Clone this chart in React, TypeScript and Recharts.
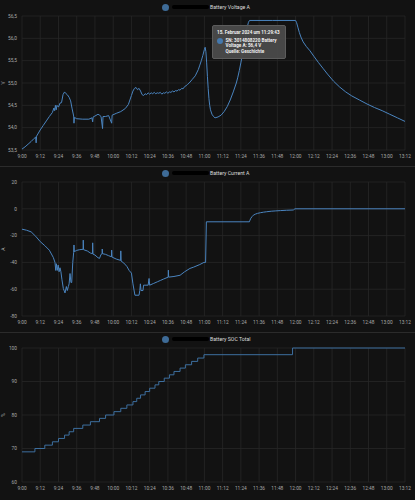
import { LineChart, Line, XAxis, YAxis, CartesianGrid, Tooltip } from "recharts";

// x axis: minutes after 9:00
const timeLabels = [
  "9:00", "9:12", "9:24", "9:36", "9:48", "10:00", "10:12", "10:24", "10:36", "10:48", "11:00",
  "11:12", "11:24", "11:36", "11:48", "12:00", "12:12", "12:24", "12:36", "12:48", "13:00", "13:12",
];

const voltageMinutes = [
  0, 2, 4, 6, 8, 9, 9.3, 9.6, 12, 14, 16, 18, 20, 21, 21.5, 22, 22.5, 23, 24, 25, 26, 27, 28, 29, 30,
  31, 32, 33, 34, 34.2, 34.5, 36, 40, 44, 46, 46.5, 46.8, 48, 50, 51, 52, 53, 53.3, 55, 57, 59, 59.3,
  62, 65, 68, 70, 71, 72, 73, 74, 75, 76, 77, 78, 79, 80, 81, 82, 83, 84, 85, 86, 87, 88, 89, 90, 91,
  92, 93, 94, 95, 96, 97, 98, 99, 100, 101, 102, 103, 104, 105, 106, 107, 108, 109, 110, 112, 114,
  116, 117, 118, 119, 120, 120.5, 121, 121.5, 122, 122.5, 123, 123.5, 124, 125, 126, 127, 129, 131,
  133, 135, 137, 139, 141, 142, 143, 144, 145, 146, 147, 148, 149, 149.7, 165, 180, 180.7, 181.5,
  182.5, 183.5, 185, 187, 189.5, 192, 195, 198, 201, 205, 209, 213, 217, 222, 227, 232, 237, 242,
  247, 252,
];
const voltageValues = [
  53.52, 53.57, 53.63, 53.69, 53.76, 53.79, 53.66, 53.81, 53.95, 54.05, 54.15, 54.25, 54.34, 54.44,
  54.38, 54.5, 54.4, 54.5, 54.46, 54.55, 54.56, 54.74, 54.8, 54.76, 54.73, 54.68, 54.6, 54.42, 54.26,
  54.1, 54.23, 54.2, 54.19, 54.19, 54.22, 54.13, 54.24, 54.26, 54.3, 54.28, 54.25, 53.98, 54.25,
  54.25, 54.27, 54.1, 54.28, 54.32, 54.36, 54.43, 54.52, 54.62, 54.72, 54.82, 54.88, 54.9, 54.85,
  54.88, 54.82, 54.74, 54.72, 54.76, 54.74, 54.78, 54.75, 54.78, 54.76, 54.79, 54.76, 54.78, 54.77,
  54.79, 54.75, 54.78, 54.77, 54.8, 54.77, 54.8, 54.79, 54.82, 54.8, 54.83, 54.82, 54.85, 54.84,
  54.88, 54.87, 54.92, 54.94, 54.97, 55.0, 55.08, 55.16, 55.3, 55.4, 55.5, 55.62, 55.75, 55.8, 55.7,
  55.45, 55.15, 54.88, 54.65, 54.5, 54.4, 54.3, 54.25, 54.22, 54.24, 54.28, 54.36, 54.47, 54.62,
  54.8, 55.0, 55.13, 55.28, 55.45, 55.63, 55.82, 56.02, 56.22, 56.36, 56.4, 56.4, 56.4, 56.35, 56.25,
  56.13, 56.03, 55.92, 55.82, 55.72, 55.6, 55.46, 55.33, 55.2, 55.04, 54.91, 54.8, 54.71, 54.62,
  54.53, 54.45, 54.38, 54.3, 54.22, 54.14,
];

const currentMinutes = [
  0, 3, 6, 9, 12, 15, 18, 20.6, 21.7, 22.2, 22.6, 23.2, 23.8, 24.4, 25, 25.6, 26.3, 27.2, 28.3, 29.2,
  29.8, 30.5, 31, 31.6, 32.2, 32.7, 33.4, 34, 34.2, 34.4, 36, 38, 40.2, 40.3, 40.5, 43, 45, 46.4, 46.5,
  46.7, 48, 50, 51, 52, 52.7, 52.8, 53, 55, 57, 58.9, 59, 59.2, 62, 64.9, 65, 65.2, 67, 69, 70.5, 72,
  73, 74.3, 77, 77.5, 77.9, 78.3, 79.6, 80, 83, 83.6, 84, 86.4, 89, 91, 93, 96.2, 96.3, 96.5, 100, 104,
  107, 110.5, 113, 117, 119.7, 120.8, 121.3, 149.6, 150, 150.6, 151.4, 152.2, 153.5, 155, 157, 159,
  161, 164, 167, 170, 174, 178.5, 179.6, 252,
];
const currentValues = [
  -15.2, -16, -17.2, -20.5, -24.5, -27.5, -30.9, -36.3, -40, -46, -41, -46, -42, -47, -44, -47, -53,
  -59.5, -62.8, -58, -61, -58, -56, -48.3, -55, -55, -40, -32.5, -27, -32, -31, -30.5, -30.2, -23.4,
  -30.5, -31.5, -33, -33.5, -25.4, -33.8, -34.5, -36.5, -37, -34, -33.5, -30, -33.5, -34, -35, -35.8,
  -30.8, -36, -37.5, -38.5, -31.4, -39, -40.5, -43, -46, -48, -56, -64.5, -64.5, -61, -56, -61, -61,
  -57, -57, -52, -57, -55.8, -54.5, -53.5, -52.5, -51, -45.8, -51, -50.5, -49.6, -47, -44.5, -43.5,
  -41.6, -40, -40, -9.7, -9.7, -8.5, -7, -5.8, -4.8, -4, -3.4, -2.9, -2.5, -2.2, -1.8, -1.55, -1.35,
  -1.1, -0.9, 0, 0,
];

const socMinutes = [
  0, 8.5, 15, 20, 24, 28, 31, 34, 40, 45, 51, 55, 60.5, 65, 69, 73, 75.5, 78, 81, 84, 87.5, 90, 93.6,
  97, 100, 104, 107.5, 111.6, 115.6, 119.7, 178, 252,
];
const socValues = [
  69, 70, 71, 72, 73, 74, 75, 76, 77, 78, 79, 80, 81, 82, 83, 84, 85, 86, 87, 88, 89, 90, 91, 92, 93,
  94, 95, 96, 97, 98, 100, 100,
];

const voltageTicks = [53.5, 54, 54.5, 55, 55.5, 56, 56.5];
const currentTicks = [-80, -60, -40, -20, 0, 20];
const socTicks = [60, 70, 80, 90, 100];

const tooltipTime = 149.7;
const tooltipTitle = "15. Februar 2024 um 11:29:43";
const tooltipLines = ["SN: 3014808220 Battery", "Voltage A: 56,4 V", "Quelle: Geschichte"];

const toMinutes = (s: string) => {
  const [h, m] = s.split(":").map(Number);
  return (h - 9) * 60 + m;
};
const timeTicks = timeLabels.map(toMinutes);
const fmtTime = (v: number) => timeLabels[timeTicks.indexOf(v)] ?? "";

const FONT = "Roboto, sans-serif";
const LINE = "#4a84bf";
const GRID = "#272727";
const TEXT = "#a8a8a8";

function LegendRow({ title }: { title: string }) {
  return (
    <div
      style={{
        position: "absolute",
        top: 3.5,
        left: 161.5,
        display: "flex",
        alignItems: "center",
        height: 7,
        fontFamily: FONT,
        fontSize: 5.2,
        color: "#dcdcdc",
        zIndex: 2,
      }}
    >
      <span style={{ width: 7, height: 7, borderRadius: "50%", background: "#3e6b97", marginRight: 3 }} />
      <span style={{ width: 37, height: 4, background: "#000", borderRadius: 2, marginRight: 1.5 }} />
      <span>{title}</span>
    </div>
  );
}

function HoverBox() {
  return (
    <div
      style={{
        width: 74,
        height: 34,
        boxSizing: "border-box",
        background: "rgba(74,74,74,0.96)",
        border: "1px solid #5c5c5c",
        borderRadius: 2,
        fontFamily: FONT,
        color: "#f0f0f0",
        fontSize: 4.6,
        padding: "4px 4px",
        lineHeight: "5.4px",
      }}
    >
      <div style={{ fontWeight: 700, marginBottom: 2.5 }}>{tooltipTitle}</div>
      <div style={{ display: "flex" }}>
        <span
          style={{
            width: 6,
            height: 6,
            borderRadius: "50%",
            background: "#4478ad",
            marginRight: 2.5,
            flexShrink: 0,
          }}
        />
        <div style={{ fontWeight: 700 }}>
          {tooltipLines.map((l) => (
            <div key={l}>{l}</div>
          ))}
        </div>
      </div>
    </div>
  );
}

type PanelProps = {
  minutes: number[];
  values: number[];
  title: string;
  unit: string;
  ticks: number[];
  fmt: (v: number) => string;
  step?: boolean;
  color?: string;
  showTip?: boolean;
  divider?: boolean;
};

function Panel({ minutes, values, title, unit, ticks, fmt, step, color, showTip, divider }: PanelProps) {
  const data = minutes.map((t, i) => ({ t, v: values[i] }));
  const tipIndex = minutes.indexOf(tooltipTime);
  return (
    <div style={{ position: "relative", width: 415, height: 166 }}>
      {divider && (
        <div style={{ position: "absolute", top: 0, left: 0, width: 415, height: 1, background: "#2b2b2b" }} />
      )}
      <LegendRow title={title} />
      <LineChart width={415} height={166} data={data} margin={{ top: 16, right: 10, bottom: 0, left: 0 }}>
        <CartesianGrid stroke={GRID} strokeWidth={0.8} />
        <XAxis
          dataKey="t"
          type="number"
          domain={[0, 252]}
          ticks={timeTicks}
          tickFormatter={fmtTime}
          axisLine={false}
          tickLine={false}
          tickSize={3}
          height={16}
          interval={0}
          tick={{ fill: TEXT, fontSize: 4.8, fontFamily: FONT }}
        />
        <YAxis
          type="number"
          domain={[ticks[0], ticks[ticks.length - 1]]}
          ticks={ticks}
          tickFormatter={fmt}
          axisLine={false}
          tickLine={false}
          tickSize={3}
          width={22}
          interval={0}
          tick={{ fill: TEXT, fontSize: 4.8, fontFamily: FONT }}
          label={{
            value: unit,
            angle: -90,
            position: "insideLeft",
            offset: 3,
            fill: TEXT,
            fontSize: 5,
            fontFamily: FONT,
            style: { textAnchor: "middle" },
          }}
        />
        {showTip && (
          <Tooltip
            active
            defaultIndex={tipIndex}
            position={{ x: 212, y: 25 }}
            cursor={false}
            isAnimationActive={false}
            wrapperStyle={{ outline: "none" }}
            content={() => <HoverBox />}
          />
        )}
        <Line
          type={step ? "stepAfter" : "linear"}
          dataKey="v"
          stroke={color ?? LINE}
          strokeWidth={1}
          dot={false}
          activeDot={false}
          isAnimationActive={false}
        />
      </LineChart>
    </div>
  );
}

export default function App() {
  return (
    <div style={{ width: 415, height: 500, background: "#121212", position: "relative", overflow: "hidden" }}>
      <style>{"body{margin:0;background:#121212}"}</style>
      <Panel
        minutes={voltageMinutes}
        values={voltageValues}
        title="Battery Voltage A"
        unit="V"
        ticks={voltageTicks}
        fmt={(v) => v.toFixed(1).replace(".", ",")}
        showTip
      />
      <Panel
        minutes={currentMinutes}
        values={currentValues}
        title="Battery Current A"
        unit="A"
        ticks={currentTicks}
        fmt={(v) => String(v)}
        divider
      />
      <Panel
        minutes={socMinutes}
        values={socValues}
        title="Battery SOC Total"
        unit="%"
        ticks={socTicks}
        fmt={(v) => String(v)}
        step
        color="#3d6f9f"
        divider
      />
    </div>
  );
}
